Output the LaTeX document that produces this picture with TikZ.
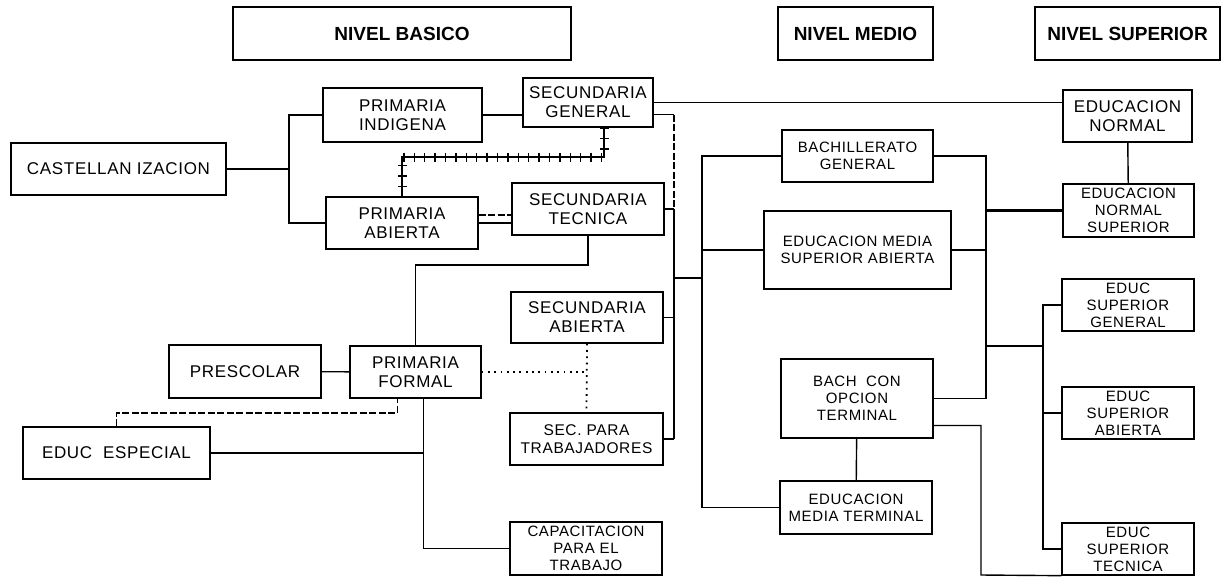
\documentclass[tikz,border=0pt]{standalone}
\usepackage{fontspec}
\setmainfont{Liberation Sans}[LetterSpace=4]
\newfontfamily\nivelfont{Liberation Sans}
\tikzstyle{Caja}=[rectangle, draw, line width=1.3pt, inner sep=1pt, align=center, font=\fontsize{17}{19}\selectfont]
\tikzstyle{CajaChica}=[Caja, font=\fontsize{15}{17}\selectfont]
\tikzstyle{Nivel}=[rectangle, draw, line width=1.3pt, minimum height=53pt, font=\nivelfont\bfseries\fontsize{19}{22}\selectfont]
\tikzstyle{Linea}=[line width=1.4pt]
\tikzstyle{Punteada}=[line width=1.8pt, dash pattern=on 1.8pt off 4.5pt]
\tikzstyle{Rayada}=[line width=1.4pt, dash pattern=on 7pt off 2.5pt]
\tikzstyle{Gruesa}=[line width=3pt]
\tikzstyle{Vias}=[line width=2.6pt, postaction={draw, line width=9pt, dash pattern=on 1.4pt off 9pt}]

\begin{document}
\begin{tikzpicture}[x=1pt, y=-1pt, Linea]
			\useasboundingbox (0,0) rectangle (1222,576);
			%Niveles
			\node[Nivel, minimum width=338pt]	(basico)	at (402,33.5)		{NIVEL BASICO};
			\node[Nivel, minimum width=155pt]	(medio)		at (855.5,33.5)		{NIVEL MEDIO};
			\node[Nivel, minimum width=185pt]	(superior)	at (1127.5,33.5)	{NIVEL SUPERIOR};

			%Nodos basico
			\node[Caja, minimum width=215pt, minimum height=52pt]	(castellan)	at (118.5,169)	{CASTELLAN IZACION};
			\node[Caja, minimum width=159pt, minimum height=54pt]	(indigena)	at (402.5,115)	{PRIMARIA\\INDIGENA};
			\node[Caja, minimum width=152pt, minimum height=52pt]	(pabierta)	at (402,223)	{PRIMARIA\\ABIERTA};
			\node[Caja, minimum width=130pt, minimum height=49pt]	(sgeneral)	at (588,102.5)	{SECUNDARIA\\GENERAL};
			\node[Caja, minimum width=152pt, minimum height=52pt]	(stecnica)	at (588,209)	{SECUNDARIA\\TECNICA};
			\node[Caja, minimum width=152pt, minimum height=51pt]	(sabierta)	at (587,317.5)	{SECUNDARIA\\ABIERTA};
			\node[Caja, minimum width=153pt, minimum height=52pt, font=\fontsize{15.5}{18}\selectfont]	(strab)	at (586.5,439)	{SEC. PARA\\TRABAJADORES};
			\node[CajaChica, minimum width=152pt, minimum height=53pt]	(capac)	at (586,548.5)	{CAPACITACION\\PARA EL\\TRABAJO};
			\node[Caja, minimum width=152pt, minimum height=53pt]	(prescolar)	at (245,371.5)	{PRESCOLAR};
			\node[Caja, minimum width=131pt, minimum height=52pt]	(pformal)	at (415.5,372)	{PRIMARIA\\FORMAL};
			\node[Caja, minimum width=187pt, minimum height=52pt]	(eesp)		at (116.5,453)	{EDUC~ ESPECIAL};

			%Nodos medio
			\node[CajaChica, minimum width=151pt, minimum height=52pt]	(bgeneral)	at (857.5,156)	{BACHILLERATO\\GENERAL};
			\node[CajaChica, minimum width=187pt, minimum height=78pt]	(emsa)		at (857.5,250)	{EDUCACION MEDIA\\SUPERIOR ABIERTA};
			\node[CajaChica, minimum width=152pt, minimum height=79pt]	(bcon)		at (857,398.5)	{BACH~ CON\\OPCION\\TERMINAL};
			\node[CajaChica, minimum width=152pt, minimum height=53pt]	(emt)		at (856,507.5)	{EDUCACION\\MEDIA TERMINAL};

			%Nodos superior
			\node[Caja, minimum width=129pt, minimum height=52pt]		(enormal)	at (1127.5,116)	{EDUCACION\\NORMAL};
			\node[CajaChica, minimum width=131pt, minimum height=53pt]	(ens)		at (1128.5,210.5)	{EDUCACION\\NORMAL\\SUPERIOR};
			\node[CajaChica, minimum width=132pt, minimum height=52pt]	(esg)		at (1128,305)	{EDUC\\SUPERIOR\\GENERAL};
			\node[CajaChica, minimum width=132pt, minimum height=52pt]	(esa)		at (1128,413)	{EDUC\\SUPERIOR\\ABIERTA};
			\node[CajaChica, minimum width=132pt, minimum height=52pt]	(est)		at (1128,549)	{EDUC\\SUPERIOR\\TECNICA};

			%Puntos de union
			\coordinate (jCast)	at (289,169);
			\coordinate (jSec)	at (674,278);
			\coordinate (jMed)	at (702,278);
			\coordinate (jSup)	at (986,346);
			\coordinate (jEsup)	at (1043,346);
			\coordinate (jVia)	at (500,157);
			\coordinate (jTec)	at (500,265);
			\coordinate (jEsp)	at (250,413);
			\coordinate (jForm)	at (424,453);
			\coordinate (jBach)	at (981,575);

			%Lineas
			\draw (castellan.east) -- (jCast);
			\draw (indigena.west) -| (jCast) |- (pabierta.west);
			\draw (indigena.east) -- (indigena.east -| sgeneral.west);
			\draw (sgeneral.east) -- (sgeneral.east -| enormal.west);
			\draw ([yshift=-12pt]sgeneral.east) -- ([yshift=-12pt]sgeneral.east -| jSec);
			\draw[Rayada] ([yshift=-12pt]sgeneral.east -| jSec) -- (stecnica.east -| jSec);
			\draw (stecnica.east -| jSec) -- (strab.east -| jSec);
			\draw (stecnica.east) -- (stecnica.east -| jSec);
			\draw (sabierta.east) -- (sabierta.east -| jSec);
			\draw (strab.east) -- (strab.east -| jSec);
			\draw (jSec) -- (jMed);
			\draw (pabierta.east) -- (pabierta.east -| stecnica.west);
			\draw[Rayada] ([yshift=8pt]pabierta.east) -- ([yshift=8pt]pabierta.east -| stecnica.west);
			\draw[Vias] ([xshift=16pt]sgeneral.south) |- (jVia) -| (pabierta.north);
			\draw (stecnica.south) |- (jTec) -| (pformal.north);
			\draw (prescolar) -- (pformal);
			\draw[Punteada] (pformal.east) -- (pformal.east -| sabierta.south);
			\draw[Punteada] (sabierta.south) -- (strab.north);
			\draw[Rayada] (eesp.north) |- (jEsp) -| ([xshift=-18pt]pformal.south);
			\draw ([xshift=8pt]pformal.south) |- (capac.west);
			\draw (eesp.east) -- (jForm);

			\draw (bgeneral.west) -| (jMed) |- (emt.west);
			\draw (emsa.west) -- (emsa.west -| jMed);
			\draw (bgeneral.east) -| (jSup) |- (bcon.east);
			\draw (emsa.east) -- (emsa.east -| jSup);
			\draw[Gruesa] (ens.west) -- (ens.west -| jSup);
			\draw (jSup) -- (jEsup);
			\draw (bcon) -- (emt);
			\draw ([yshift=-27pt]bcon.east) -| (jBach) -- (est.south west);

			\draw (enormal) -- (ens);
			\draw (esg.west) -| (jEsup) |- (est.west);
			\draw (esa.west) -- (esa.west -| jEsup);
		\end{tikzpicture}
\end{document}
